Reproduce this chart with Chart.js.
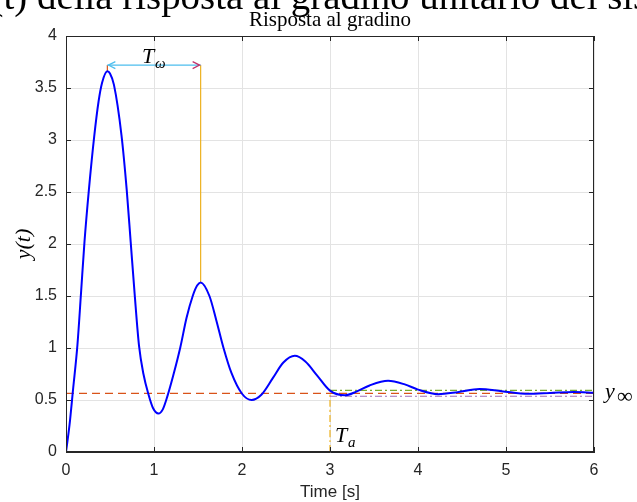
<!DOCTYPE html>
<html>
<head>
<meta charset="utf-8">
<script src="https://cdn.jsdelivr.net/npm/chart.js@4/dist/chart.umd.min.js"></script>
<style>
  html, body { margin: 0; padding: 0; background: #fff; }
  canvas { display: block; }
</style>
</head>
<body>
<canvas id="stepChart" width="637" height="502"></canvas>
<script>
// Risposta al gradino
const timeValues = [0, 0.04, 0.08, 0.13, 0.17, 0.21, 0.26, 0.32, 0.37, 0.41, 0.47, 0.50, 0.545, 0.63, 0.69, 0.735, 0.78, 0.83, 0.88, 0.935, 0.99, 1.05, 1.10, 1.15, 1.22, 1.30, 1.37, 1.44, 1.49, 1.53, 1.63, 1.71, 1.79, 1.88, 2.00, 2.11, 2.22, 2.35, 2.47, 2.60, 2.72, 2.85, 3.00, 3.17, 3.30, 3.45, 3.66, 3.85, 4.00, 4.23, 4.45, 4.70, 4.95, 5.25, 5.50, 5.77, 6.00];
const responseValues = [0, 0.26, 0.60, 1.03, 1.52, 2.02, 2.52, 3.03, 3.37, 3.55, 3.66, 3.64, 3.53, 3.05, 2.52, 2.02, 1.52, 1.02, 0.75, 0.56, 0.42, 0.37, 0.41, 0.53, 0.74, 1.01, 1.29, 1.50, 1.60, 1.63, 1.50, 1.26, 1.00, 0.76, 0.56, 0.50, 0.55, 0.71, 0.86, 0.925, 0.87, 0.74, 0.59, 0.545, 0.58, 0.64, 0.685, 0.65, 0.60, 0.556, 0.575, 0.605, 0.585, 0.56, 0.568, 0.578, 0.57];

const xTicks = [0, 1, 2, 3, 4, 5, 6];
const yTicks = [0, 0.5, 1, 1.5, 2, 2.5, 3, 3.5, 4];

// grandezze caratteristiche
const yInf = 0.564;
const bandHigh = 0.592;
const bandLow = 0.536;
const settlingTime = 3;
const firstPeak = [0.47, 3.66];
const secondPeak = [1.53, 1.63];
const arrowLevel = 3.72;

const axisColor = '#262626';
const gridColor = '#e3e3e3';

function seg(x0, y0, x1, y1) {
  return [{ x: x0, y: y0 }, { x: x1, y: y1 }];
}

function lineSet(data, color, dash, width) {
  return {
    data: data,
    borderColor: color,
    borderWidth: width || 1.2,
    borderDash: dash || [],
    pointRadius: 0,
    fill: false,
    tension: 0
  };
}

const curve = timeValues.map((t, i) => ({ x: t, y: responseValues[i] }));

// testi, frecce e tacche interne stile MATLAB
const overlay = {
  id: 'overlay',
  afterDraw(chart) {
    const ctx = chart.ctx;
    const a = chart.chartArea;
    const xs = chart.scales.x, ys = chart.scales.y;
    ctx.save();

    // box e tacche
    ctx.strokeStyle = axisColor;
    ctx.lineWidth = 1;
    ctx.strokeRect(a.left + 0.5, a.top + 0.5, a.right - a.left - 1, a.bottom - a.top - 1);
    ctx.beginPath();
    xTicks.forEach(v => {
      const px = Math.round(xs.getPixelForValue(v)) + 0.5;
      ctx.moveTo(px, a.bottom); ctx.lineTo(px, a.bottom - 5);
      ctx.moveTo(px, a.top); ctx.lineTo(px, a.top + 5);
    });
    yTicks.forEach(v => {
      const py = Math.round(ys.getPixelForValue(v)) + 0.5;
      ctx.moveTo(a.left, py); ctx.lineTo(a.left + 5, py);
      ctx.moveTo(a.right, py); ctx.lineTo(a.right - 5, py);
    });
    ctx.stroke();

    // punte della freccia T_omega
    const ay = ys.getPixelForValue(arrowLevel);
    const ax0 = xs.getPixelForValue(firstPeak[0]);
    const ax1 = xs.getPixelForValue(secondPeak[0]);
    ctx.lineWidth = 1.2;
    ctx.strokeStyle = '#4DBEEE';
    ctx.beginPath();
    ctx.moveTo(ax0 + 8, ay - 3.5); ctx.lineTo(ax0 + 1, ay); ctx.lineTo(ax0 + 8, ay + 3.5);
    ctx.stroke();
    ctx.strokeStyle = '#C0306A';
    ctx.beginPath();
    ctx.moveTo(ax1 - 8, ay - 3.5); ctx.lineTo(ax1 - 1, ay); ctx.lineTo(ax1 - 8, ay + 3.5);
    ctx.stroke();

    ctx.fillStyle = '#000';
    ctx.textAlign = 'left';
    ctx.textBaseline = 'alphabetic';

    // titolo superiore tagliato (largo come nell'originale)
    ctx.font = '37px "Liberation Serif"';
    const lead = ctx.measureText('y(t) ').width;
    const span = ctx.measureText('della risposta al gradino unitario del').width;
    const size = 37 * 561 / span;
    ctx.font = size.toFixed(1) + 'px "Liberation Serif"';
    const lead2 = lead * size / 37;
    ctx.fillText('y(t) della risposta al gradino unitario del sistema', 37 - lead2, 9);

    // titolo
    ctx.font = '21px "Liberation Serif"';
    ctx.textAlign = 'center';
    ctx.fillText('Risposta al gradino', (a.left + a.right) / 2, 26);

    // etichette assi
    ctx.font = '17px "Liberation Sans"';
    ctx.fillStyle = axisColor;
    ctx.fillText('Time [s]', (a.left + a.right) / 2, 497);
    ctx.save();
    ctx.translate(30, (a.top + a.bottom) / 2);
    ctx.rotate(-Math.PI / 2);
    ctx.font = 'italic 22px "Liberation Serif"';
    ctx.fillStyle = '#000';
    ctx.fillText('y(t)', 0, 0);
    ctx.restore();

    // annotazioni
    ctx.textAlign = 'left';
    ctx.fillStyle = '#000';
    ctx.font = 'italic 22px "Liberation Serif"';
    ctx.fillText('T', 142, 63);
    ctx.fillText('T', 335, 442);
    ctx.fillText('y', 605, 398);
    ctx.font = 'italic 15px "Liberation Serif"';
    ctx.fillText('ω', 155, 68);
    ctx.fillText('a', 348, 447);
    ctx.font = '22px "Liberation Serif"';
    ctx.fillText('∞', 617, 403);

    ctx.restore();
  }
};

new Chart(document.getElementById('stepChart'), {
  type: 'line',
  data: {
    datasets: [
      lineSet(curve, '#0000FF', [], 2),
      lineSet(seg(0, yInf, 6, yInf), '#D95319', [8, 5]),
      lineSet(seg(settlingTime, bandHigh, 6, bandHigh), '#77AC30', [7, 3, 2, 3]),
      lineSet(seg(settlingTime, bandLow, 6, bandLow), '#A06CB8', [7, 3, 2, 3]),
      lineSet(seg(settlingTime, 0, settlingTime, yInf), '#EDB120', [7, 3, 2, 3]),
      lineSet(seg(firstPeak[0], arrowLevel, secondPeak[0], arrowLevel), '#4DBEEE'),
      lineSet(seg(secondPeak[0], secondPeak[1], secondPeak[0], arrowLevel), '#EDB120'),
      lineSet(seg(firstPeak[0], firstPeak[1], firstPeak[0], arrowLevel), '#D95319')
    ]
  },
  options: {
    responsive: false,
    animation: false,
    layout: { padding: { left: 0, top: 36, right: 43, bottom: 0 } },
    plugins: {
      legend: { display: false },
      title: { display: false },
      tooltip: { enabled: false }
    },
    elements: { line: { cubicInterpolationMode: 'monotone' } },
    scales: {
      x: {
        type: 'linear',
        min: 0,
        max: 6,
        afterBuildTicks: s => { s.ticks = xTicks.map(v => ({ value: v })); },
        afterFit: s => { s.height = 50; },
        grid: { color: gridColor, drawTicks: false },
        border: { display: true, color: axisColor },
        ticks: { color: axisColor, padding: 9, font: { family: 'Liberation Sans', size: 16 }, callback: v => String(v) }
      },
      y: {
        type: 'linear',
        min: 0,
        max: 4,
        afterBuildTicks: s => { s.ticks = yTicks.map(v => ({ value: v })); },
        afterFit: s => { s.width = 66; },
        grid: { color: gridColor, drawTicks: false },
        border: { display: true, color: axisColor },
        ticks: { color: axisColor, padding: 9, font: { family: 'Liberation Sans', size: 16 }, callback: v => String(v) }
      }
    }
  },
  plugins: [overlay]
});
</script>
</body>
</html>
